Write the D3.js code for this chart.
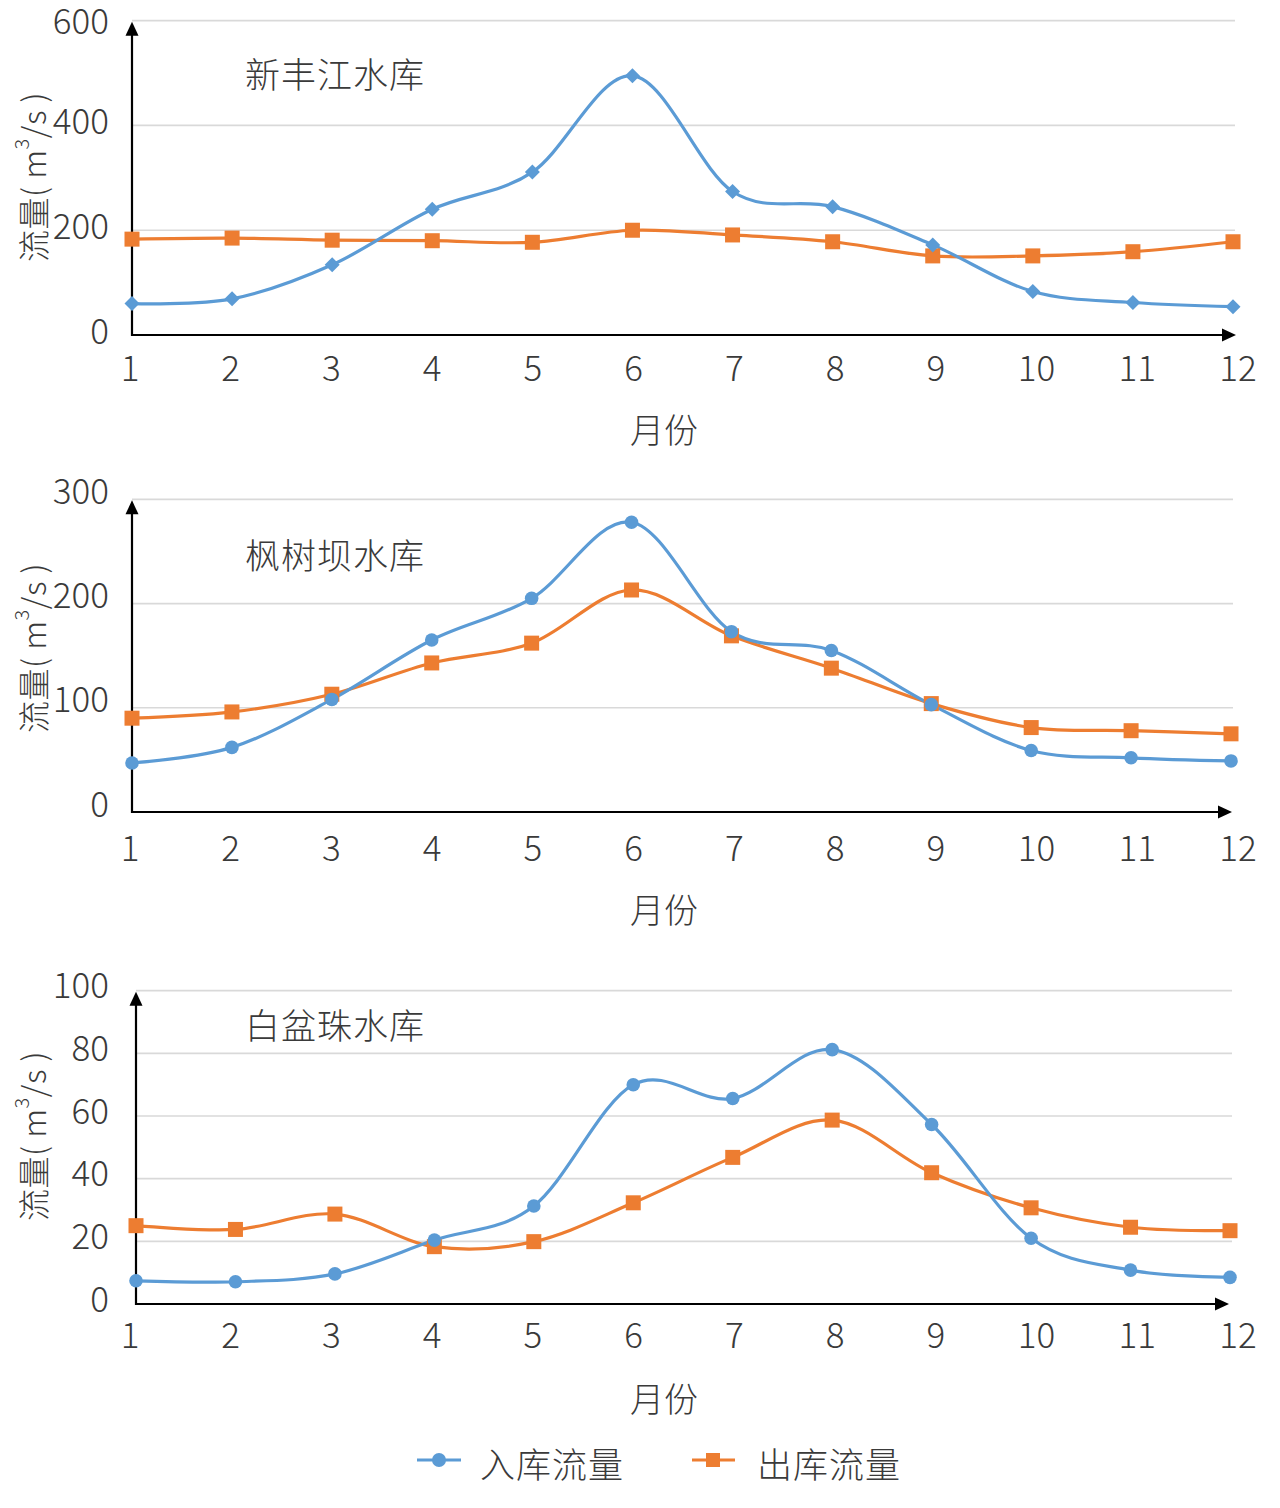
<!DOCTYPE html>
<html><head><meta charset="utf-8">
<script src="https://cdn.jsdelivr.net/npm/d3@7"></script>
<style>
html,body{margin:0;padding:0;background:#fff;}
svg text{font-family:"Noto Sans CJK SC","Noto Sans",sans-serif;font-weight:300;fill:#3a3a3a;}
</style></head>
<body>
<svg id="chart" width="1280" height="1508"></svg>
<script>
const months = [1,2,3,4,5,6,7,8,9,10,11,12];
const xfjIn  = [60,69,134,240,311,495,274,245,172,83,62,54];
const xfjOut = [183,185,181,180,177,200,191,178,151,151,159,178];
const fsbIn  = [47,62,108,165,205,278,173,155,103,59,52,49];
const fsbOut = [90,96,113,143,162,213,169,138,104,81,78,75];
const bpzIn  = [7.4,7.1,9.6,20.4,31.3,70,65.6,81.2,57.3,21,10.8,8.5];
const bpzOut = [25,23.8,28.7,18.3,19.9,32.3,46.8,58.7,41.9,30.7,24.5,23.4];
const ticks1 = [0,200,400,600];
const ticks2 = [0,100,200,300];
const ticks3 = [0,20,40,60,80,100];
const titles = ["新丰江水库","枫树坝水库","白盆珠水库"];
const seriesNames = ["入库流量","出库流量"];

const BLUE = "#5B9BD5", ORANGE = "#ED7D31";
const svg = d3.select("#chart");

const panels = [
  {title:titles[0], inV:xfjIn, outV:xfjOut, ticks:ticks1, max:600, x0:132, x1:1233, yB:335, yT:20.7, arrowX:1236, inMarker:"diamond", tdy:-4, titleY:72, ytitleY:177, tickY:368, xtitleY:428},
  {title:titles[1], inV:fsbIn, outV:fsbOut, ticks:ticks2, max:300, x0:132, x1:1231, yB:812, yT:499.3, arrowX:1232, inMarker:"circle", tdy:-8, titleY:553, ytitleY:648, tickY:848, xtitleY:908},
  {title:titles[2], inV:bpzIn, outV:bpzOut, ticks:ticks3, max:100, x0:136, x1:1230, yB:1304, yT:990.7, arrowX:1229, inMarker:"circle", tdy:-5, titleY:1023, ytitleY:1136, tickY:1335, xtitleY:1397}
];

const labelX = d3.scaleLinear().domain([1,12]).range([130,1238]);
const line = d3.line().curve(d3.curveCatmullRom.alpha(0));

panels.forEach(p => {
  const x = d3.scaleLinear().domain([1,12]).range([p.x0,p.x1]);
  const y = d3.scaleLinear().domain([0,p.max]).range([p.yB,p.yT]);
  const g = svg.append("g");

  // gridlines
  g.selectAll("line.grid").data(p.ticks.filter(t=>t>0)).enter().append("line")
    .attr("x1",p.x0).attr("x2",p.x1+2).attr("y1",d=>y(d)).attr("y2",d=>y(d))
    .attr("stroke","#d9d9d9").attr("stroke-width",1.7);

  // y tick labels (alphabetic baseline, digit cap ~0.73em)
  g.selectAll("text.yt").data(p.ticks).enter().append("text")
    .attr("x",109).attr("y",d=>Math.max(y(d)+p.tdy,21)+12.5).attr("text-anchor","end")
    .attr("font-size",35).text(d=>d);

  // x tick labels
  g.selectAll("text.xt").data(months).enter().append("text")
    .attr("x",d=>labelX(d)).attr("y",p.tickY+12.5).attr("text-anchor","middle")
    .attr("font-size",35).text(d=>d);

  // axes with arrows
  g.append("line").attr("x1",p.x0).attr("x2",p.arrowX-12).attr("y1",p.yB).attr("y2",p.yB)
    .attr("stroke","#000").attr("stroke-width",2.2);
  g.append("path").attr("d",`M${p.arrowX},${p.yB} L${p.arrowX-14},${p.yB-6.5} L${p.arrowX-14},${p.yB+6.5} Z`).attr("fill","#000");
  g.append("line").attr("x1",p.x0).attr("x2",p.x0).attr("y1",p.yB+1).attr("y2",p.yT+12)
    .attr("stroke","#000").attr("stroke-width",2.2);
  g.append("path").attr("d",`M${p.x0},${p.yT+1} L${p.x0-6.5},${p.yT+15} L${p.x0+6.5},${p.yT+15} Z`).attr("fill","#000");

  // titles
  g.append("text").attr("x",245).attr("y",p.titleY).attr("dominant-baseline","central")
    .attr("font-size",35).attr("letter-spacing",1).text(p.title);
  g.append("text").attr("x",664).attr("y",p.xtitleY).attr("text-anchor","middle")
    .attr("dominant-baseline","central").attr("font-size",34).text("月份");
  const yt = g.append("text").attr("transform",`translate(32,${p.ytitleY}) rotate(-90)`)
    .attr("text-anchor","middle").attr("dominant-baseline","central").attr("font-size",32).attr("letter-spacing",0.5);
  yt.append("tspan").text("流量( m");
  yt.append("tspan").attr("font-size",20).attr("dy",-12).text("3");
  yt.append("tspan").attr("dy",12).text("/s )");

  // series
  const ptsOut = months.map((m,i)=>[x(m),y(p.outV[i])]);
  const ptsIn = months.map((m,i)=>[x(m),y(p.inV[i])]);
  g.append("path").attr("d",line(ptsOut)).attr("fill","none").attr("stroke",ORANGE).attr("stroke-width",3.2);
  g.append("path").attr("d",line(ptsIn)).attr("fill","none").attr("stroke",BLUE).attr("stroke-width",3.2);

  g.selectAll("rect.mo").data(ptsOut).enter().append("rect")
    .attr("x",d=>d[0]-7.5).attr("y",d=>d[1]-7.5).attr("width",15).attr("height",15).attr("fill",ORANGE);
  if (p.inMarker==="diamond") {
    g.selectAll("path.mi").data(ptsIn).enter().append("path")
      .attr("d",d=>`M${d[0]},${d[1]-7.5} L${d[0]+7.5},${d[1]} L${d[0]},${d[1]+7.5} L${d[0]-7.5},${d[1]} Z`).attr("fill",BLUE);
  } else {
    g.selectAll("circle.mi").data(ptsIn).enter().append("circle")
      .attr("cx",d=>d[0]).attr("cy",d=>d[1]).attr("r",6.8).attr("fill",BLUE);
  }
});

// legend
const lg = svg.append("g");
lg.append("line").attr("x1",417).attr("x2",461).attr("y1",1460).attr("y2",1460).attr("stroke",BLUE).attr("stroke-width",3);
lg.append("circle").attr("cx",439).attr("cy",1460).attr("r",7).attr("fill",BLUE);
lg.append("text").attr("x",480).attr("y",1462).attr("dominant-baseline","central").attr("font-size",35).attr("letter-spacing",1).text(seriesNames[0]);
lg.append("line").attr("x1",692).attr("x2",735).attr("y1",1460).attr("y2",1460).attr("stroke",ORANGE).attr("stroke-width",3);
lg.append("rect").attr("x",706).attr("y",1453).attr("width",14).attr("height",14).attr("fill",ORANGE);
lg.append("text").attr("x",757).attr("y",1462).attr("dominant-baseline","central").attr("font-size",35).attr("letter-spacing",1).text(seriesNames[1]);
</script>
</body></html>
